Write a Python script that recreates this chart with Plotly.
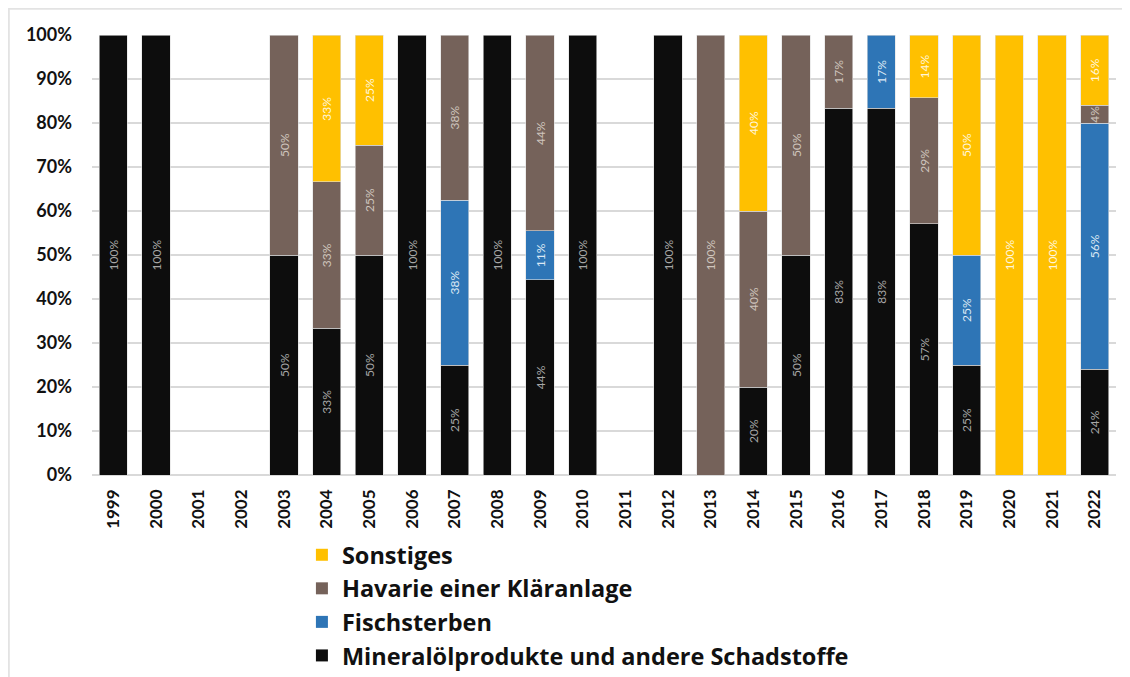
import plotly.graph_objects as go

years = [str(y) for y in range(1999, 2023)]

mineral = [100, 100, 0, 0, 50, 33.3, 50, 100, 25, 100, 44.4, 100, 0, 100, 0, 20, 50, 83.3, 83.3, 57.1, 25, 0, 0, 24]
fisch   = [0, 0, 0, 0, 0, 0, 0, 0, 37.5, 0, 11.1, 0, 0, 0, 0, 0, 0, 0, 16.7, 0, 25, 0, 0, 56]
havarie = [0, 0, 0, 0, 50, 33.3, 25, 0, 37.5, 0, 44.4, 0, 0, 0, 100, 40, 50, 16.7, 0, 28.6, 0, 0, 0, 4]
sonst   = [0, 0, 0, 0, 0, 33.3, 25, 0, 0, 0, 0, 0, 0, 0, 0, 40, 0, 0, 0, 14.3, 50, 100, 100, 16]

series = [
    ("Mineralölprodukte und andere Schadstoffe", mineral, "#0d0d0d", "#a6a6a6"),
    ("Fischsterben", fisch, "#2e75b6", "#dce8f4"),
    ("Havarie einer Kläranlage", havarie, "#75625a", "#cfc5bd"),
    ("Sonstiges", sonst, "#ffc000", "#fff6dc"),
]

FONT = "Lato"

fig = go.Figure()
for name, vals, col, tcol in series:
    y = [v if v > 0 else None for v in vals]
    txt = [f"{round(v)}%" if v > 0 else "" for v in vals]
    fig.add_trace(go.Bar(
        x=years, y=y, name=name, showlegend=False,
        marker=dict(color=col, line=dict(color="#e0e0e0", width=0.6)),
        text=txt, textposition="inside", insidetextanchor="middle",
        textangle=-90,
        textfont=dict(family=FONT, size=12, color=tcol),
        hoverinfo="x+y+name",
    ))

# legend-only entries (top to bottom as in the reference)
for name, vals, col, tcol in reversed(series):
    fig.add_trace(go.Scatter(
        x=[None], y=[None], name=name, mode="markers",
        marker=dict(symbol="square", size=15, color=col),
        showlegend=True, hoverinfo="skip",
    ))

# figure sits at page offset (8, 8)
W, H = 1122, 669
L, R, T, B = 84, 14, 27, 202
PH = H - T - B  # 440
PW = W - L - R  # 1024

fig.update_layout(
    barmode="stack",
    bargap=0.34,
    width=W, height=H,
    margin=dict(l=L, r=R, t=T, b=B),
    paper_bgcolor="white", plot_bgcolor="white",
    font=dict(family=FONT, color="#111111"),
    uniformtext=dict(minsize=10, mode="show"),
    legend=dict(
        orientation="v", traceorder="normal",
        x=0.205, xanchor="left",
        yref="container", y=1 - 525 / H, yanchor="top",
        font=dict(family="Open Sans", size=23.5, color="#111111", weight="bold"),
        itemsizing="constant", tracegroupgap=0,
    ),
    shapes=[
        dict(type="line", xref="paper", yref="paper",
             x0=(0 - L) / PW, x1=(W - L) / PW,
             y0=1 + (T - 0.8) / PH, y1=1 + (T - 0.8) / PH,
             line=dict(color="#e3e3e3", width=2)),
        dict(type="line", xref="paper", yref="paper",
             x0=(0.8 - L) / PW, x1=(0.8 - L) / PW,
             y0=1 + T / PH, y1=-B / PH,
             line=dict(color="#e3e3e3", width=2)),
    ],
)

fig.update_yaxes(
    range=[0, 100], dtick=10, ticksuffix="%",
    showgrid=True, gridcolor="#d9d9d9", gridwidth=1.5,
    zeroline=True, zerolinecolor="#d9d9d9", zerolinewidth=1.5,
    showline=False, automargin=False,
    tickfont=dict(family=FONT, size=18, color="#111111", weight="bold"),
    ticklabelstandoff=19,
)
fig.update_xaxes(
    type="category", tickangle=-90, range=[-0.5, len(years) - 0.5],
    showline=False, showgrid=False, automargin=False,
    tickfont=dict(family=FONT, size=17, color="#111111", weight="bold"),
    ticklabelstandoff=10,
)

fig.write_html("out.html")
